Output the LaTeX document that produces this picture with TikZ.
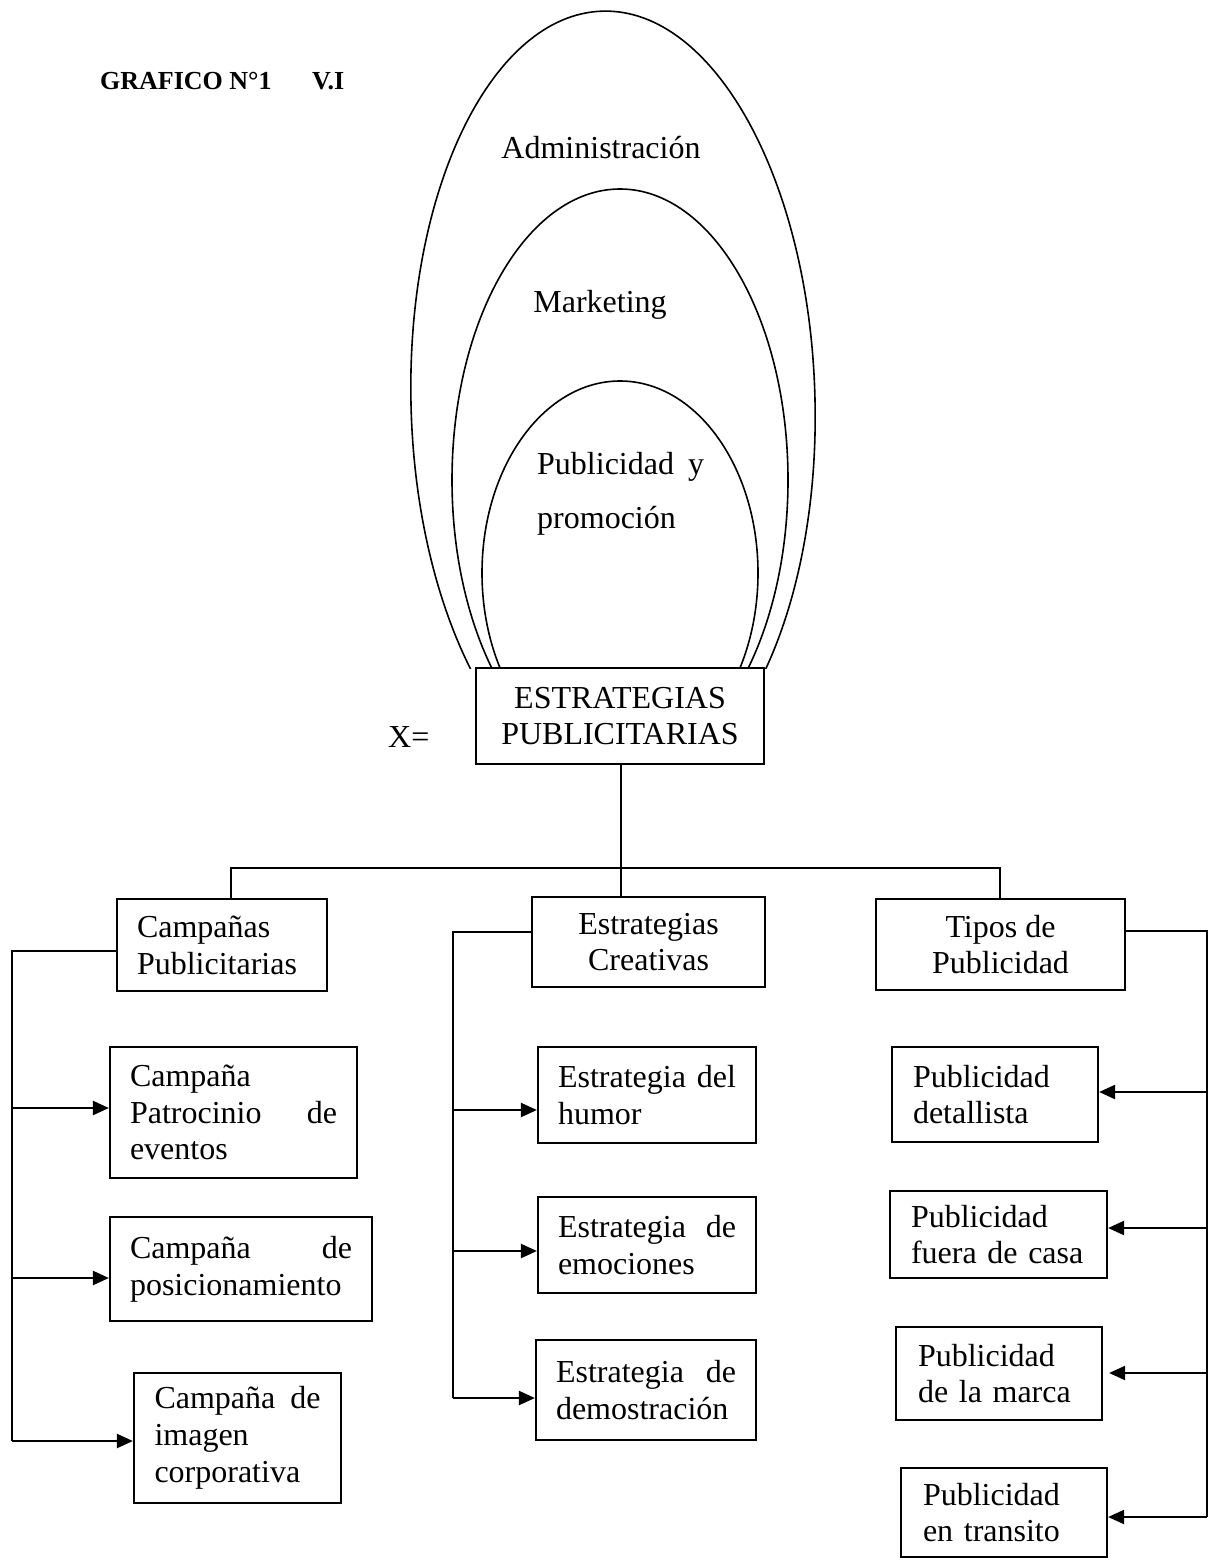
\documentclass[tikz,border=0pt]{standalone}
\usepackage{fontspec}
\setmainfont{Liberation Serif}
\usetikzlibrary{arrows.meta}

\begin{document}
\begin{tikzpicture}[x=1pt,y=-1pt,
  txt/.style={font=\fontsize{32}{36.8}\selectfont, inner sep=0pt},
  box/.style={draw, line width=2.2pt, inner xsep=0pt, inner ysep=0pt,
    font=\fontsize{32}{36.8}\selectfont},
  lbox/.style={box, align=left},
  cbox/.style={box, align=center},
  wire/.style={line width=2.2pt},
  arr/.style={wire, -{Triangle[length=16pt,width=14pt]}},
  oval/.style={line width=1.6pt}
]
\useasboundingbox (0,0) rectangle (1209,1560);

% heading
\node[anchor=base west, inner sep=0pt, font=\fontsize{26}{30}\selectfont\bfseries]
  (title) at (100,90) {\makebox[212pt][l]{GRAFICO N°1}V.I};

% nested ovals, cut off where they meet the central box
\begin{scope}
  \clip (0,0) rectangle (1209,668);
  \draw[oval, rotate around={1.5:(613,402)}] (613,402) ellipse [x radius=202pt, y radius=391pt];
  \draw[oval] (620,480) ellipse [x radius=168pt, y radius=291pt];
  \draw[oval] (620,573) ellipse [x radius=138pt, y radius=192pt];
\end{scope}

\node[txt, anchor=base] (adm) at (601,158) {Administración};
\node[txt, anchor=base] (mkt) at (600,312) {Marketing};
% with align, the base anchor sits on the last line
\node[anchor=base west, inner sep=0pt, align=left, font=\fontsize{32}{54}\selectfont]
  (pyp) at (537,528) {Publicidad\hspace{14pt}y\\promoción};

% central box
\node[cbox, minimum width=288pt, minimum height=96pt] (est) at (620,716)
  {ESTRATEGIAS\\PUBLICITARIAS};
\node[txt, anchor=base west] (xeq) at (388,747) {X=};

% second level
\node[lbox, line width=1.2pt, text width=170pt, minimum width=210pt, minimum height=92pt]
  (cp) at (222,945) {Campañas\\Publicitarias};
\node[cbox, minimum width=233pt, minimum height=90pt] (ec) at (648.5,942)
  {Estrategias\\Creativas};
\node[cbox, minimum width=249pt, minimum height=91pt] (tp) at (1000.5,944.5)
  {Tipos de\\Publicidad};

% left column
\node[lbox, text width=207pt, minimum width=247pt, minimum height=131pt] (cpat) at (233.5,1112.5)
  {Campaña\\Patrocinio\hfill de\\eventos};
\node[lbox, text width=222pt, minimum width=262pt, minimum height=104pt] (cpos) at (241,1269)
  {Campaña\hfill de\\posicionamiento};
\node[lbox, text width=166pt, minimum width=207pt, minimum height=130pt] (cimg) at (237.5,1438)
  {Campaña\hfill de\\imagen\\corporativa};

% middle column
\node[lbox, text width=178pt, minimum width=218pt, minimum height=96pt] (eh) at (647,1095)
  {Estrategia\hfill del\\humor};
\node[lbox, text width=178pt, minimum width=218pt, minimum height=96pt] (eem) at (647,1245)
  {Estrategia\hfill de\\emociones};
\node[lbox, text width=180pt, minimum width=220pt, minimum height=100pt] (edem) at (646,1390)
  {Estrategia\hfill de\\demostración};

% right column
\node[lbox, text width=164pt, minimum width=206pt, minimum height=95pt] (pdet) at (995,1094.5)
  {Publicidad\\detallista};
\node[lbox, text width=175pt, minimum width=217pt, minimum height=87pt] (pfue) at (998.5,1234.5)
  {Publicidad\\fuera de casa};
\node[lbox, text width=162pt, minimum width=206pt, minimum height=93pt] (pmar) at (999,1373.5)
  {Publicidad\\de la marca};
\node[lbox, text width=162pt, minimum width=206pt, minimum height=89pt] (ptra) at (1004,1512.5)
  {Publicidad\\en transito};

% tree from the central box
\coordinate (tj) at (621,868);
\coordinate (hl) at (231,868);
\coordinate (hr) at (1000,868);
\draw[wire] (est.south -| tj) -- (tj |- ec.north);
\draw[wire] (hl |- cp.north) -- (hl) -- (hr) -- (hr |- tp.north);

% left bus
\coordinate (lb0) at (12,951);
\coordinate (lb1) at (12,1108);
\coordinate (lb2) at (12,1278);
\coordinate (lb3) at (12,1441);
\draw[wire] (cp.west |- lb0) -- (lb0) -- (lb3);
\draw[arr] (lb1) -- (lb1 -| cpat.west);
\draw[arr] (lb2) -- (lb2 -| cpos.west);
\draw[arr] (lb3) -- (lb3 -| cimg.west);

% middle bus
\coordinate (mb0) at (453,932);
\coordinate (mb1) at (453,1110);
\coordinate (mb2) at (453,1251);
\coordinate (mb3) at (453,1398);
\draw[wire] (ec.west |- mb0) -- (mb0) -- (mb3);
\draw[arr] (mb1) -- (mb1 -| eh.west);
\draw[arr] (mb2) -- (mb2 -| eem.west);
\draw[arr] (mb3) -- (mb3 -| edem.west);

% right bus
\coordinate (rb0) at (1207,931);
\coordinate (rb1) at (1207,1092);
\coordinate (rb2) at (1207,1228);
\coordinate (rb3) at (1207,1373);
\coordinate (rb4) at (1207,1517);
\draw[wire] (tp.east |- rb0) -- (rb0) -- (rb4);
\draw[arr] (rb1) -- (rb1 -| pdet.east);
\draw[arr] (rb2) -- (rb2 -| pfue.east);
\draw[arr] (rb3) -- ([xshift=6pt]rb3 -| pmar.east);
\draw[arr] (rb4) -- (rb4 -| ptra.east);
\end{tikzpicture}
\end{document}
